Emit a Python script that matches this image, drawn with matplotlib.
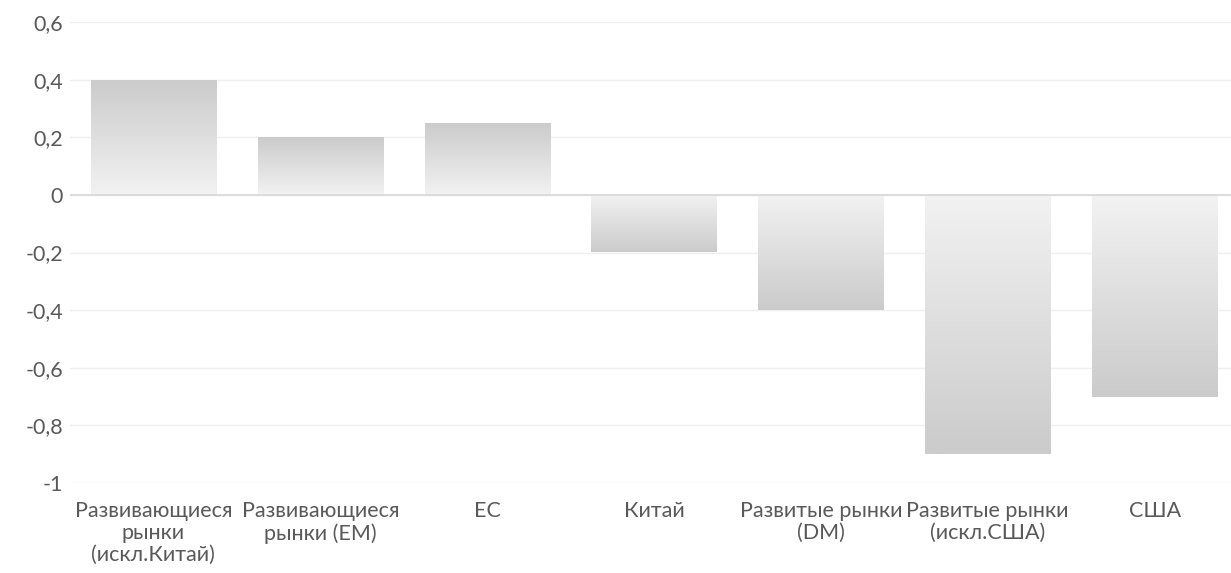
import matplotlib
matplotlib.use("Agg")
import matplotlib.pyplot as plt
import numpy as np
from matplotlib.ticker import FuncFormatter, MultipleLocator

categories = ["Развивающиеся\nрынки\n(искл.Китай)", "Развивающиеся\nрынки (EM)", "ЕС", "Китай",
              "Развитые рынки\n(DM)", "Развитые рынки\n(искл.США)", "США"]
values = [0.4, 0.2, 0.25, -0.2, -0.4, -0.9, -0.7]

plt.rcParams['font.family'] = ['Lato', 'DejaVu Sans']

fig = plt.figure(figsize=(12.31, 5.73), dpi=100)
ax = fig.add_axes([70/1231, 1-483/573, (1238-70)/1231, (483-22)/573])

x = np.arange(len(categories))
bars = ax.bar(x, values, width=0.75, facecolor='none', edgecolor='none', zorder=3)

# gradient: dark at value end, light at zero end
dark, light = 0xcb / 255, 0xf2 / 255
grad = np.linspace(0, 1, 256).reshape(-1, 1)
for b, v in zip(bars, values):
    x0 = b.get_x()
    w = b.get_width()
    g = light + (dark - light) * grad
    img = np.dstack([g, g, g])
    im = ax.imshow(img, extent=(x0, x0 + w, 0, v), origin='lower', aspect='auto',
                   zorder=3, interpolation='bilinear')
    im.set_clip_path(b)


def fmt(v, p):
    if abs(v) < 1e-9:
        return "0"
    if abs(v - round(v)) < 1e-9:
        return str(int(round(v)))
    return f"{v:.1f}".replace(".", ",")


ax.set_xlim(-0.5, len(categories) - 0.5)
ax.set_ylim(-1, 0.6)
ax.yaxis.set_major_locator(MultipleLocator(0.2))
ax.yaxis.set_major_formatter(FuncFormatter(fmt))
ax.grid(axis='y', color='#efefef', linewidth=1, zorder=0)
ax.axhline(0, color='#d9d9d9', linewidth=1.3, zorder=4)
for s in ax.spines.values():
    s.set_visible(False)
ax.tick_params(axis='both', length=0, labelsize=15.5, colors='#595959')
ax.tick_params(axis='y', pad=5)
ax.tick_params(axis='x', pad=13)
ax.set_xticks(x)
ax.set_xticklabels(categories, linespacing=1.13)

fig.savefig("out.png", dpi=100)
